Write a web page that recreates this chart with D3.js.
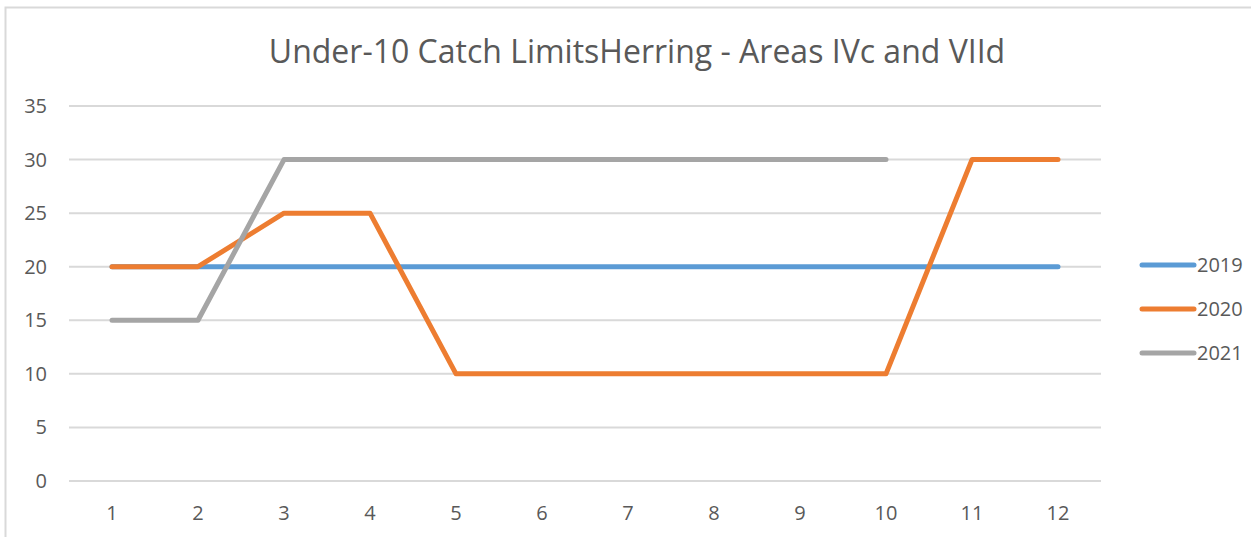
<!DOCTYPE html>
<html>
<head>
<meta charset="utf-8">
<script src="https://cdn.jsdelivr.net/npm/d3@7"></script>
<style>
    body { margin: 0; background: #fff; }
    svg { display: block; font-family: "Open Sans", "Liberation Sans", sans-serif; }
    .grid line { stroke: #d9d9d9; stroke-width: 2; }
    .tick-label { fill: #595959; font-size: 20px; }
    .title { fill: #595959; font-size: 32px; }
</style>
</head>
<body>
<svg id="chart"></svg>
<script>
// chart data
const months = [1, 2, 3, 4, 5, 6, 7, 8, 9, 10, 11, 12];
const seriesNames = ["2019", "2020", "2021"];
const values2019 = [20, 20, 20, 20, 20, 20, 20, 20, 20, 20, 20, 20];
const values2020 = [20, 20, 25, 25, 10, 10, 10, 10, 10, 10, 30, 30];
const values2021 = [15, 15, 30, 30, 30, 30, 30, 30, 30, 30];
const yTicks = [0, 5, 10, 15, 20, 25, 30, 35];
const colors = ["#5b9bd5", "#ed7d31", "#a5a5a5"];
const titleText = "Under-10 Catch LimitsHerring - Areas IVc and VIId";

const width = 1251, height = 537;
const plot = { left: 69, right: 1101, top: 106, bottom: 481 };

const svg = d3.select("#chart").attr("width", width).attr("height", height);

// outer chart border (only top/left visible in crop)
svg.append("rect")
    .attr("x", 5.5).attr("y", 7.5)
    .attr("width", width + 10).attr("height", height + 10)
    .attr("fill", "none").attr("stroke", "#d9d9d9").attr("stroke-width", 2);

const x = d3.scaleBand().domain(months).range([plot.left, plot.right]);
const y = d3.scaleLinear().domain([0, 35]).range([plot.bottom, plot.top]);

// gridlines
svg.append("g").attr("class", "grid")
    .selectAll("line").data(yTicks).enter().append("line")
    .attr("x1", plot.left).attr("x2", plot.right)
    .attr("y1", d => y(d)).attr("y2", d => y(d));

// y labels
svg.selectAll(".ylab").data(yTicks).enter().append("text")
    .attr("class", "tick-label")
    .attr("x", 47).attr("y", d => y(d))
    .attr("dy", "0.35em")
    .attr("text-anchor", "end")
    .text(d => d);

// x labels
svg.selectAll(".xlab").data(months).enter().append("text")
    .attr("class", "tick-label")
    .attr("x", d => x(d) + x.bandwidth() / 2)
    .attr("y", 520)
    .attr("text-anchor", "middle")
    .text(d => d);

// title
svg.append("text").attr("class", "title")
    .attr("x", 637).attr("y", 63)
    .attr("text-anchor", "middle")
    .text(titleText);

// lines
const allSeries = [values2019, values2020, values2021];
const line = d3.line()
    .x((d, i) => x(months[i]) + x.bandwidth() / 2)
    .y(d => y(d));

allSeries.forEach((vals, i) => {
    svg.append("path")
        .datum(vals)
        .attr("fill", "none")
        .attr("stroke", colors[i])
        .attr("stroke-width", 5)
        .attr("stroke-linecap", "round")
        .attr("stroke-linejoin", "round")
        .attr("d", line);
});

// legend
const legendY = [265, 309, 353];
seriesNames.forEach((name, i) => {
    svg.append("line")
        .attr("x1", 1142).attr("x2", 1194)
        .attr("y1", legendY[i]).attr("y2", legendY[i])
        .attr("stroke", colors[i]).attr("stroke-width", 5)
        .attr("stroke-linecap", "round");
    svg.append("text").attr("class", "tick-label")
        .attr("x", 1197).attr("y", legendY[i])
        .attr("dy", "0.35em")
        .text(name);
});
</script>
</body>
</html>
